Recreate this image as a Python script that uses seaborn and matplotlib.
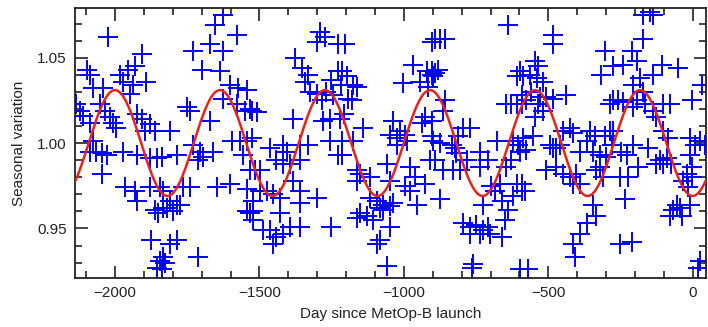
import numpy as np
import pandas as pd
import matplotlib
matplotlib.use("Agg")
import matplotlib.pyplot as plt
from matplotlib.ticker import MultipleLocator, FormatStrFormatter
import seaborn as sns

# Daily seasonal-variation estimates (day relative to MetOp-B launch, ratio)
days = [
    -2023, -1908, -1931, -1954, -1983, -2098, -2087, -2075, -2041, -1972, -1937, -1891, -1948,
    -2133, -2121, -2110, -2087, -2052, -2035, -2018, -2006, -1995, -1925, -1908, -1879, -1897,
    -1862, -2075, -2064, -2046, -2029, -2087, -1972, -1925, -1879, -1856, -2046, -1966, -1931,
    -1925, -1879, -1845, -1862, -1850, -1833, -1874, -1845, -1856, -1833,
    -1625, -1654, -1579, -1671, -1729, -1625, -1700, -1636, -1573, -1602, -1544, -1752, -1740,
    -1671, -1625, -1579, -1533, -1550, -1809, -1786, -1838, -1729, -1706, -1694, -1660, -1711,
    -1567, -1544, -1596, -1556, -1533, -1763, -1740, -1648, -1602, -1544, -1832, -1809, -1786,
    -1821, -1798, -1775, -1544, -1533, -1786, -1809, -1832, -1827, -1711, -1838,
    -1291, -1274, -1302, -1227, -1377, -1354, -1331, -1343, -1227, -1251, -1216, -1325, -1302,
    -1268, -1245, -1285, -1527, -1510, -1383, -1279, -1256, -1222, -1527, -1464, -1418, -1406,
    -1360, -1331, -1256, -1227, -1441, -1418, -1395, -1360, -1516, -1498, -1383, -1360, -1498,
    -1475, -1452, -1429, -1521, -1302, -1360, -1521, -1521, -1429, -1487, -1464, -1441, -1418,
    -1452, -1395, -1360, -1251,
    -1204, -1215, -1198, -1175, -1192, -1181, -1163, -904, -967, -921, -904, -1002, -944,
    -915, -1209, -1140, -1215, -1175, -1037, -1013, -1025, -996, -990, -1048, -927, -904,
    -938, -1215, -910, -927, -979, -961, -996, -979, -956, -1163, -1152, -1117, -1163,
    -1048, -1060, -1025, -1117, -1094, -1071, -1048, -1083, -1037, -1071, -1152, -1129, -1163,
    -1106, -1048, -1083, -1094, -1060,
    -893, -875, -858, -639, -904, -893, -881, -898, -599, -610, -645, -628, -610,
    -593, -858, -864, -904, -795, -772, -812, -737, -679, -708, -898, -875, -835,
    -824, -818, -829, -806, -893, -783, -737, -864, -622, -605, -599, -628, -645,
    -610, -593, -622, -875, -726, -697, -685, -668, -662, -639, -651, -795, -772,
    -749, -726, -708, -702, -737, -772, -662, -760, -766, -599,
    -484, -484, -547, -536, -564, -587, -541, -518, -305, -317, -276, -559, -530,
    -507, -484, -438, -593, -576, -536, -518, -547, -288, -426, -415, -449, -357,
    -340, -305, -288, -553, -587, -576, -495, -484, -472, -461, -368, -391, -345,
    -322, -299, -507, -472, -449, -426, -403, -391, -322, -311, -334, -593, -582,
    -415, -345, -334, -368, -391, -415, -409, -570,
    -172, -137, -149, -172, -212, -241, -195, -108, -51, -137, -183, -275, -258,
    -241, -206, -172, -195, -206, -166, -137, -103, -79, -126, -4, 30, -275,
    -281, -206, -154, -103, -85, -247, -229, -114, -103, -91, -74, -126, -189,
    -224, -252, -10, 24, 42, 7, -10, -22, -4, -33, -16, -4, -235,
    -56, -68, -45, -39, -79, -10, -252, -212, 19, 24,
]
ratios = [
    1.062, 1.052, 1.045, 1.043, 1.040, 1.043, 1.040, 1.032, 1.032, 1.036, 1.034, 1.036, 1.029,
    1.023, 1.019, 1.016, 1.012, 1.023, 1.019, 1.015, 1.012, 1.009, 1.017, 1.014, 1.011, 1.007,
    1.007, 1.001, 0.995, 0.994, 0.993, 0.995, 0.995, 0.993, 0.991, 0.991, 0.982, 0.974, 0.972,
    0.966, 0.974, 0.974, 0.961, 0.959, 0.962, 0.943, 0.931, 0.927, 0.933,
    1.075, 1.069, 1.063, 1.058, 1.054, 1.054, 1.043, 1.042, 1.032, 1.034, 1.031, 1.021, 1.019,
    1.013, 1.026, 1.023, 1.020, 1.019, 1.007, 0.993, 0.992, 0.999, 0.995, 0.992, 0.995, 0.990,
    1.001, 1.001, 1.001, 0.993, 0.984, 0.974, 0.974, 0.974, 0.976, 0.973, 0.972, 0.966, 0.964,
    0.962, 0.960, 0.964, 0.960, 0.959, 0.943, 0.941, 0.933, 0.930, 0.933, 0.926,
    1.065, 1.062, 1.059, 1.058, 1.050, 1.044, 1.040, 1.036, 1.042, 1.037, 1.034, 1.030, 1.029,
    1.030, 1.028, 1.025, 1.019, 1.018, 1.014, 1.013, 1.014, 1.014, 1.003, 0.997, 0.999, 0.995,
    0.999, 0.999, 1.001, 0.993, 0.990, 0.988, 0.988, 0.990, 0.984, 0.984, 0.978, 0.972, 0.972,
    0.972, 0.970, 0.968, 0.966, 0.968, 0.965, 0.960, 0.955, 0.959, 0.949, 0.949, 0.945, 0.947,
    0.941, 0.951, 0.951, 0.951,
    1.058, 1.042, 1.039, 1.034, 1.026, 1.025, 1.033, 1.059, 1.046, 1.042, 1.040, 1.035, 1.036,
    1.033, 1.017, 1.009, 1.001, 1.001, 1.013, 1.007, 1.003, 1.005, 1.001, 1.005, 1.015, 1.004,
    1.012, 0.993, 0.990, 0.976, 0.986, 0.980, 0.975, 0.972, 0.964, 0.984, 0.982, 0.980, 0.978,
    0.978, 0.988, 0.999, 0.968, 0.966, 0.964, 0.963, 0.962, 0.965, 0.961, 0.959, 0.957, 0.956,
    0.955, 0.951, 0.943, 0.941, 0.928,
    1.061, 1.061, 1.061, 1.069, 1.042, 1.041, 1.043, 1.039, 1.042, 1.039, 1.023, 1.023, 1.023,
    1.023, 1.025, 1.019, 1.013, 1.009, 1.009, 1.004, 0.995, 1.001, 0.990, 1.001, 1.000, 0.999,
    0.997, 0.994, 0.984, 0.984, 0.990, 0.990, 0.986, 0.984, 1.001, 0.999, 0.995, 0.990, 0.986,
    0.976, 0.972, 0.969, 0.967, 0.964, 0.975, 0.972, 0.976, 0.966, 0.961, 0.955, 0.953, 0.951,
    0.952, 0.949, 0.951, 0.947, 0.947, 0.947, 0.945, 0.929, 0.927, 0.926,
    1.063, 1.058, 1.048, 1.045, 1.040, 1.039, 1.038, 1.036, 1.054, 1.040, 1.045, 1.030, 1.027,
    1.027, 1.026, 1.028, 1.028, 1.025, 1.023, 1.019, 1.015, 1.023, 1.009, 1.006, 1.007, 1.007,
    1.004, 1.004, 1.007, 1.004, 1.003, 0.996, 0.999, 0.997, 0.997, 0.999, 1.001, 0.995, 0.995,
    0.993, 0.992, 0.984, 0.986, 0.982, 0.980, 0.982, 0.976, 0.986, 0.980, 0.984, 0.976, 0.972,
    0.976, 0.964, 0.957, 0.953, 0.947, 0.941, 0.933, 0.926,
    1.075, 1.075, 1.077, 1.061, 1.054, 1.046, 1.048, 1.046, 1.044, 1.040, 1.038, 1.025, 1.025,
    1.024, 1.034, 1.030, 1.025, 1.021, 1.023, 1.019, 1.023, 1.023, 1.015, 1.025, 1.034, 1.007,
    0.999, 0.999, 0.997, 1.007, 1.003, 0.995, 0.993, 0.990, 0.988, 0.991, 0.988, 0.988, 0.986,
    0.980, 0.980, 1.003, 1.001, 0.999, 0.999, 0.993, 0.982, 0.980, 0.978, 0.974, 0.986, 0.967,
    0.964, 0.961, 0.962, 0.957, 0.957, 0.964, 0.941, 0.942, 0.927, 0.931,
]

# Fitted annual cycle: mean level, amplitude, period (days), day of a maximum
fit_mean = 1.0
fit_amplitude = 0.031
fit_period = 363.5
fit_peak_day = -2000.0

points = pd.DataFrame({"day": days, "ratio": ratios})
curve_day = np.linspace(-2138, 45, 1200)
curve = pd.DataFrame({
    "day": curve_day,
    "ratio": fit_mean + fit_amplitude * np.cos(2 * np.pi * (curve_day - fit_peak_day) / fit_period),
})

sns.set_style("ticks")
plt.rcParams["font.family"] = ["Liberation Sans", "DejaVu Sans"]

fig = plt.figure(figsize=(7.08, 3.27), dpi=100)
ax = fig.add_axes([0.106, 0.150, 0.891, 0.825])

sns.scatterplot(data=points, x="day", y="ratio", marker="+", s=200, color="#0000ff",
                linewidth=1.4, ax=ax, zorder=2)
sns.lineplot(data=curve, x="day", y="ratio", color="#e8231c", linewidth=1.8, ax=ax,
             zorder=3)

ax.set_xlim(-2138, 45)
ax.set_ylim(0.921, 1.079)
ax.xaxis.set_major_locator(MultipleLocator(500))
ax.xaxis.set_minor_locator(MultipleLocator(100))
ax.yaxis.set_major_locator(MultipleLocator(0.05))
ax.yaxis.set_minor_locator(MultipleLocator(0.01))
ax.yaxis.set_major_formatter(FormatStrFormatter("%.2f"))
ax.tick_params(which="both", direction="in", top=True, right=True, colors="#222222",
               labelsize=11, width=1.2)
ax.tick_params(which="major", length=9, pad=6)
ax.tick_params(which="minor", length=5)
for side in ax.spines.values():
    side.set_linewidth(1.3)
    side.set_color("#222222")

ax.set_xlabel("Day since MetOp-B launch", fontsize=11, color="#222222", labelpad=5)
ax.set_ylabel("Seasonal variation", fontsize=11, color="#222222", labelpad=8)

fig.savefig("out.png", dpi=100)
